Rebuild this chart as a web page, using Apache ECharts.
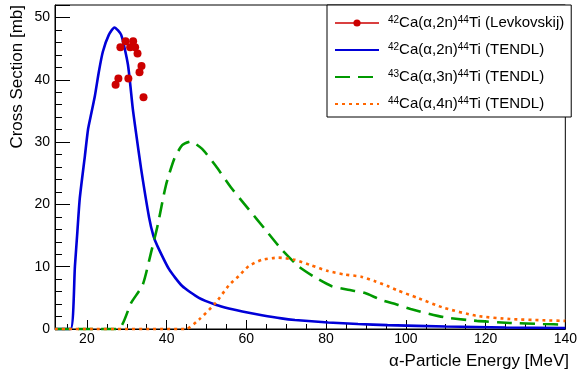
<!DOCTYPE html>
<html>
<head>
<meta charset="utf-8">
<script src="https://cdn.jsdelivr.net/npm/echarts@6/dist/echarts.min.js"></script>
<style>
  html, body { margin: 0; padding: 0; background: #fff; }
  #main { width: 580px; height: 371px; }
</style>
</head>
<body>
<div id="main"></div>
<script>
// Levkovskij measurements, 42Ca(a,2n)44Ti
const levkE = [27.2, 27.9, 28.4, 29.7, 30.4, 30.85, 31.6, 32.1, 32.7, 33.2, 33.7, 34.2];
const levkXS = [39.2, 40.2, 45.2, 46.2, 40.2, 45.2, 46.2, 45.2, 44.2, 41.2, 42.2, 37.2];

// TENDL 42Ca(a,2n)44Ti
const t2nE = [12, 15.9, 17.0, 17.6, 18.2, 19.5, 20.3, 21.1, 22.0, 23.0, 24.0, 25.5, 26.9, 28.6, 30.3, 31.5, 32.3, 33.6, 35.6, 36.7, 37.7, 40.6, 43.9, 48.1, 52.3, 55.6, 60.6, 63.9, 68.8, 72.2, 80.5, 88, 95.4, 110, 125, 140];
const t2nXS = [0, 0, 10.1, 15.5, 20.9, 27.8, 32.1, 34.6, 37.4, 41.3, 44.5, 47.2, 48.4, 47.2, 42.4, 35.4, 31.6, 25.7, 17.9, 14.9, 13.3, 9.6, 6.9, 5.0, 3.9, 3.3, 2.6, 2.2, 1.7, 1.45, 1.05, 0.8, 0.62, 0.4, 0.25, 0.15];

// TENDL 43Ca(a,3n)44Ti
const t3nE = [12, 27.8, 31.1, 34.0, 36.1, 37.7, 39.8, 41.9, 43.9, 46.0, 48.9, 52.3, 56.4, 60.6, 64.7, 68.8, 73.0, 77.2, 81.3, 85.5, 89.6, 93.7, 97.9, 101.2, 109.5, 117.8, 126.1, 134.4, 140];
const t3nXS = [0, 0, 4.2, 7.1, 12.3, 16.5, 23.0, 27.3, 29.5, 30.1, 28.9, 26.2, 22.5, 19.2, 16.0, 12.8, 10.1, 8.3, 6.9, 6.3, 5.8, 4.7, 3.9, 3.2, 1.9, 1.3, 0.97, 0.8, 0.7];

// TENDL 44Ca(a,4n)44Ti
const t4nE = [12, 44.8, 48.1, 52.3, 55.6, 58.1, 60.6, 63.9, 68.0, 72.2, 76.3, 80.5, 84.6, 88.8, 92.1, 95.4, 97.9, 102.9, 109.5, 117.8, 126.1, 134.4, 140];
const t4nXS = [0, 0, 1.5, 4.2, 7.0, 8.5, 10.1, 11.1, 11.45, 11.1, 10.2, 9.3, 8.75, 8.4, 7.7, 6.9, 6.2, 5.0, 3.4, 2.1, 1.6, 1.4, 1.3];

const xLabels = [20, 40, 60, 80, 100, 120, 140];
const xMinor = [15, 20, 25, 30, 35, 40, 45, 50, 55, 60, 65, 70, 75, 80, 85, 90, 95, 100, 105, 110, 115, 120, 125, 130, 135, 140];

const legendText = {
  levk: '{s|42}{n|Ca(α,2n)}{s|44}{n|Ti (Levkovskij)}',
  t2n: '{s|42}{n|Ca(α,2n)}{s|44}{n|Ti (TENDL)}',
  t3n: '{s|43}{n|Ca(α,3n)}{s|44}{n|Ti (TENDL)}',
  t4n: '{s|44}{n|Ca(α,4n)}{s|44}{n|Ti (TENDL)}'
};

const pairs = (xs, ys) => xs.map((x, i) => [x, ys[i]]);
const font = 'Liberation Sans, Arial, Helvetica, sans-serif';
const noDot = {opacity: 0};

const chart = echarts.init(document.getElementById('main'));
chart.setOption({
  animation: false,
  grid: {
    left: 55, right: 11, top: 5, bottom: 42,
    show: true, borderColor: '#000', borderWidth: 1
  },
  legend: {
    orient: 'vertical',
    left: 327, top: 5,
    padding: [10, 7, 5, 7],
    itemWidth: 44, itemHeight: 9, itemGap: 11,
    backgroundColor: '#fff',
    borderColor: '#000', borderWidth: 1, borderRadius: 0,
    data: [
      {name: 'levk', lineStyle: {opacity: 1, width: 1.5, color: '#cc0000'}},
      {name: 't2n', itemStyle: noDot},
      {name: 't3n', itemStyle: noDot},
      {name: 't4n', itemStyle: noDot}
    ],
    formatter: n => legendText[n],
    textStyle: {
      fontFamily: font,
      padding: [0, 0, 0, 4],
      rich: {
        n: {fontSize: 15, lineHeight: 16, fontFamily: font, color: '#000'},
        s: {fontSize: 10, lineHeight: 10, fontFamily: font, color: '#000', padding: [0, 0, 6, 0]}
      }
    }
  },
  xAxis: [{
    type: 'value', min: 12, max: 140,
    axisLine: {show: true, lineStyle: {color: '#000'}},
    axisTick: {inside: true, length: 9, customValues: xLabels, lineStyle: {color: '#000'}},
    axisLabel: {customValues: xLabels, margin: 3, fontSize: 14, fontFamily: font, color: '#000'},
    splitLine: {show: false}
  }, {
    type: 'value', min: 12, max: 140, position: 'bottom',
    axisLine: {show: false},
    axisTick: {inside: true, length: 5, customValues: xMinor, lineStyle: {color: '#000'}},
    axisLabel: {show: false},
    splitLine: {show: false}
  }],
  yAxis: {
    type: 'value', min: 0, max: 52, interval: 10,
    axisLine: {show: true, lineStyle: {color: '#000'}},
    axisTick: {inside: true, length: 15, lineStyle: {color: '#000'}},
    minorTick: {show: true, splitNumber: 5, length: 7, lineStyle: {color: '#000'}},
    axisLabel: {margin: 5, fontSize: 14, fontFamily: font, color: '#000', showMaxLabel: false},
    splitLine: {show: false}
  },
  graphic: [{
    type: 'text', x: 17.5, y: 5, rotation: Math.PI / 2,
    style: {text: 'Cross Section [mb]', align: 'right', verticalAlign: 'middle',
      fontSize: 17, fontFamily: font, fill: '#000'}
  }, {
    type: 'text', x: 569, y: 361.5,
    style: {text: 'α-Particle Energy [MeV]', align: 'right', verticalAlign: 'middle',
      fontSize: 17, fontFamily: font, fill: '#000'}
  }],
  series: [{
    name: 'levk', type: 'line', data: pairs(levkE, levkXS),
    symbol: 'circle', symbolSize: 8, clip: false, z: 5,
    itemStyle: {color: '#cc0000'}, lineStyle: {opacity: 0}
  }, {
    name: 't2n', type: 'line', data: pairs(t2nE, t2nXS),
    symbol: 'none', smooth: 0.2, clip: false,
    lineStyle: {color: '#0000d8', width: 2.6}, itemStyle: {color: '#0000d8'}
  }, {
    name: 't3n', type: 'line', data: pairs(t3nE, t3nXS),
    symbol: 'none', smooth: 0.2, clip: false,
    lineStyle: {color: '#009900', width: 2.6, type: [15, 8]}, itemStyle: {color: '#009900'}
  }, {
    name: 't4n', type: 'line', data: pairs(t4nE, t4nXS),
    symbol: 'none', smooth: 0.2, clip: false,
    lineStyle: {color: '#ff6600', width: 2.6, type: [3, 4]}, itemStyle: {color: '#ff6600'}
  }]
});
</script>
</body>
</html>
